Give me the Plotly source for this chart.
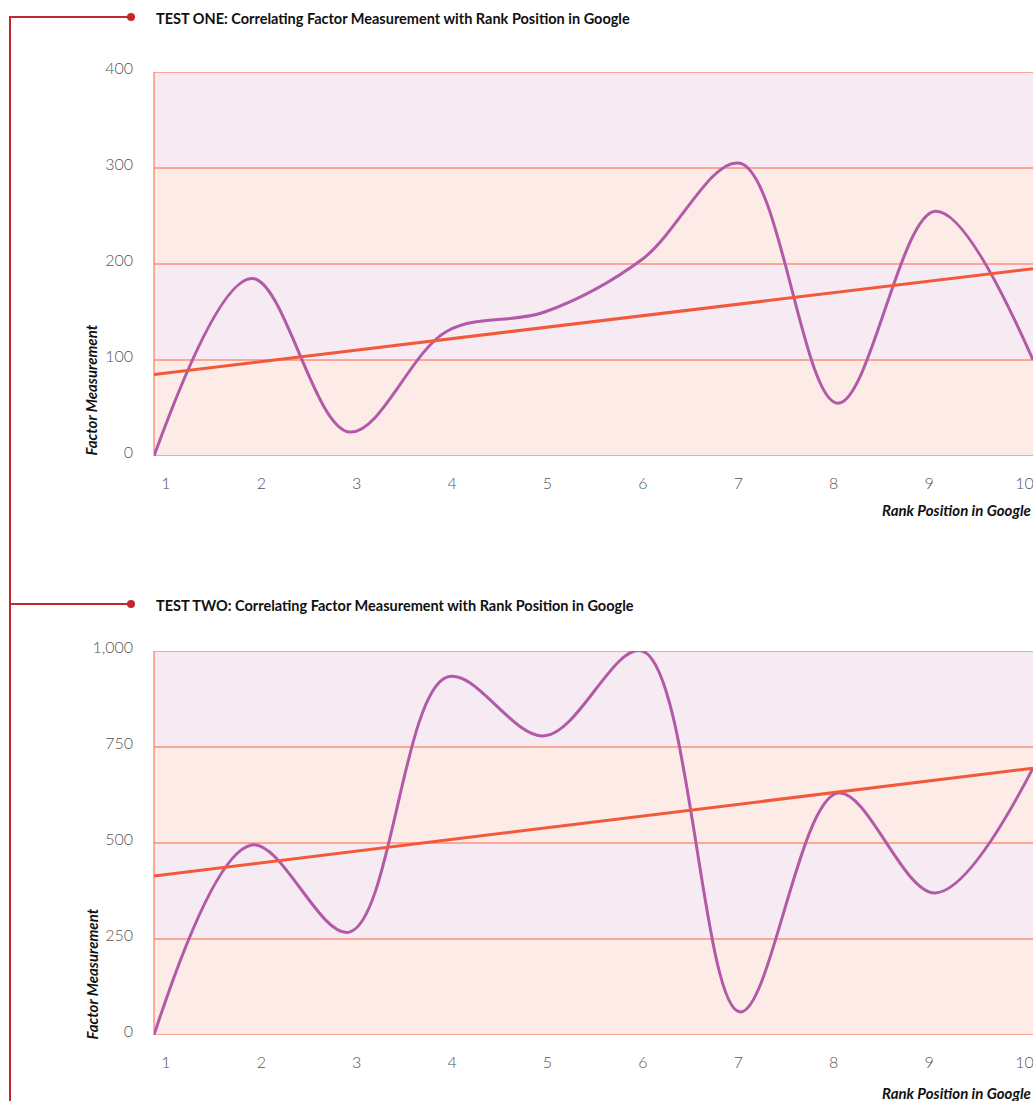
import plotly.graph_objects as go

# ---------------- data ----------------
ranks = [1, 2, 3, 4, 5, 6, 7, 8, 9, 10]
test_one_values = [0, 185, 25, 130, 150, 205, 305, 55, 255, 100]
test_two_values = [0, 495, 268, 932, 779, 1000, 60, 630, 370, 695]
test_one_trend = [85, 195]      # trend line at rank 1 and rank 10
test_two_trend = [414, 695]
test_one_yticks = [0, 100, 200, 300, 400]
test_two_yticks = [0, 250, 500, 750, 1000]
test_two_yticklabels = ["0", "250", "500", "750", "1,000"]
titles = ["TEST ONE: Correlating Factor Measurement with Rank Position in Google",
          "TEST TWO: Correlating Factor Measurement with Rank Position in Google"]

# ---------------- style ----------------
W, H = 1033, 1101
PINK = "#fdebe8"
LAVENDER = "#f6ebf3"
GRID = "#ff6242"
CURVE = "#b25aa8"
TREND = "#f2583a"
RED = "#c3282e"
TICKFONT = dict(family="Lato", size=16, color="#555555", weight=300)

fig = go.Figure()

def py(pix):
    return 1 - pix / H

panels = [
    dict(vals=test_one_values, trend=test_one_trend, ticks=test_one_yticks,
         ticktext=[str(t) for t in test_one_yticks], top=72, bottom=456,
         xa="x", ya="y", xl="x3", xaname="xaxis", yaname="yaxis", xlname="xaxis3",
         rank_y=510, branch_y=17, fm_bottom=458),
    dict(vals=test_two_values, trend=test_two_trend, ticks=test_two_yticks,
         ticktext=test_two_yticklabels, top=651, bottom=1035,
         xa="x2", ya="y2", xl="x4", xaname="xaxis2", yaname="yaxis2", xlname="xaxis4",
         rank_y=1093, branch_y=604, fm_bottom=1042),
]

shapes = []
annotations = []
x_dom = [154 / W, 1]

for i, p in enumerate(panels):
    ticks = p["ticks"]
    # alternating bands
    for j in range(len(ticks) - 1):
        shapes.append(dict(type="rect", xref=f"{p['xa']} domain", yref=p["ya"],
                           x0=0, x1=1, y0=ticks[j], y1=ticks[j + 1],
                           fillcolor=PINK if j % 2 == 0 else LAVENDER,
                           line=dict(width=0), layer="below"))
    # horizontal grid lines
    for t in ticks:
        shapes.append(dict(type="line", xref=f"{p['xa']} domain", yref=p["ya"],
                           x0=0, x1=1, y0=t, y1=t, line=dict(color=GRID, width=1),
                           layer="below"))
    # left border
    shapes.append(dict(type="line", xref=f"{p['xa']} domain", yref=f"{p['ya']} domain",
                       x0=0, x1=0, y0=0, y1=1, line=dict(color=GRID, width=1),
                       layer="below"))

    fig.add_trace(go.Scatter(x=ranks, y=p["vals"], mode="lines",
                             line=dict(color=CURVE, width=3, shape="spline", smoothing=1),
                             xaxis=p["xa"], yaxis=p["ya"], showlegend=False,
                             hoverinfo="skip"))
    fig.add_trace(go.Scatter(x=[ranks[0], ranks[-1]], y=p["trend"], mode="lines",
                             line=dict(color=TREND, width=3),
                             xaxis=p["xa"], yaxis=p["ya"], showlegend=False,
                             hoverinfo="skip"))
    # invisible trace that carries the rank-label axis
    fig.add_trace(go.Scatter(x=ranks, y=[None] * len(ranks), mode="lines",
                             xaxis=p["xl"], yaxis=p["ya"], showlegend=False,
                             hoverinfo="skip"))

    fig.update_layout({
        p["xaname"]: dict(domain=x_dom, range=[1, 10], showticklabels=False,
                          showgrid=False, zeroline=False, showline=False, ticks="",
                          fixedrange=True, anchor=p["ya"], automargin=False),
        p["xlname"]: dict(domain=x_dom, range=[0.8744, 10.09], tickvals=ranks,
                          ticktext=[str(r) for r in ranks], showgrid=False,
                          zeroline=False, showline=False, tickfont=TICKFONT,
                          ticks="", ticklabelstandoff=16, fixedrange=True,
                          anchor=p["ya"], overlaying=p["xa"], side="bottom",
                          automargin=False, ticklabeloverflow="allow"),
        p["yaname"]: dict(domain=[py(p["bottom"]), py(p["top"])],
                          range=[ticks[0], ticks[-1]], tickvals=ticks,
                          ticktext=p["ticktext"], showgrid=False, zeroline=False,
                          showline=False, tickfont=TICKFONT, ticks="",
                          ticklabelstandoff=20, ticklabelshift=-4, fixedrange=True,
                          anchor=p["xa"], automargin=False),
    })

    # title
    annotations.append(dict(text=f"<b>{titles[i]}</b>", xref="paper", yref="paper",
                            x=154 / W, y=py(p["branch_y"] + 1), xanchor="left",
                            yanchor="middle", showarrow=False,
                            font=dict(family="Lato", size=14.5, color="#111111")))
    # y title
    annotations.append(dict(text="<b><i>Factor Measurement</i></b>", xref="paper",
                            yref="paper", x=91 / W, y=py(p["fm_bottom"]),
                            xanchor="center", yanchor="bottom", textangle=-90,
                            showarrow=False,
                            font=dict(family="Lato", size=15, color="#111111")))
    # x title
    annotations.append(dict(text="<b><i>Rank Position in Google</i></b>", xref="paper",
                            yref="paper", x=1, y=py(p["rank_y"]),
                            xanchor="right", yanchor="middle", showarrow=False,
                            font=dict(family="Lato", size=15, color="#111111")))
    # branch line and dot
    shapes.append(dict(type="line", xref="paper", yref="paper",
                       x0=10 / W, x1=131 / W, y0=py(p["branch_y"]), y1=py(p["branch_y"]),
                       line=dict(color=RED, width=2)))
    shapes.append(dict(type="circle", xref="paper", yref="paper",
                       x0=127 / W, x1=135 / W, y0=py(p["branch_y"] + 4),
                       y1=py(p["branch_y"] - 4), fillcolor=RED, line=dict(width=0)))

# main vertical connector
shapes.append(dict(type="line", xref="paper", yref="paper",
                   x0=10 / W, x1=10 / W, y0=py(16), y1=0,
                   line=dict(color=RED, width=2)))

fig.update_layout(width=W, height=H, margin=dict(l=0, r=0, t=0, b=0, autoexpand=False),
                  paper_bgcolor="white", plot_bgcolor="rgba(0,0,0,0)",
                  shapes=shapes, annotations=annotations, showlegend=False)

fig.write_html("out.html", config={"displayModeBar": False})

# remove default page margins so the figure fills the window exactly
with open("out.html", "r", encoding="utf-8") as f:
    html = f.read()
html = html.replace("<head>", "<head><style>html,body{margin:0;padding:0;overflow:hidden;}</style>", 1)
with open("out.html", "w", encoding="utf-8") as f:
    f.write(html)
